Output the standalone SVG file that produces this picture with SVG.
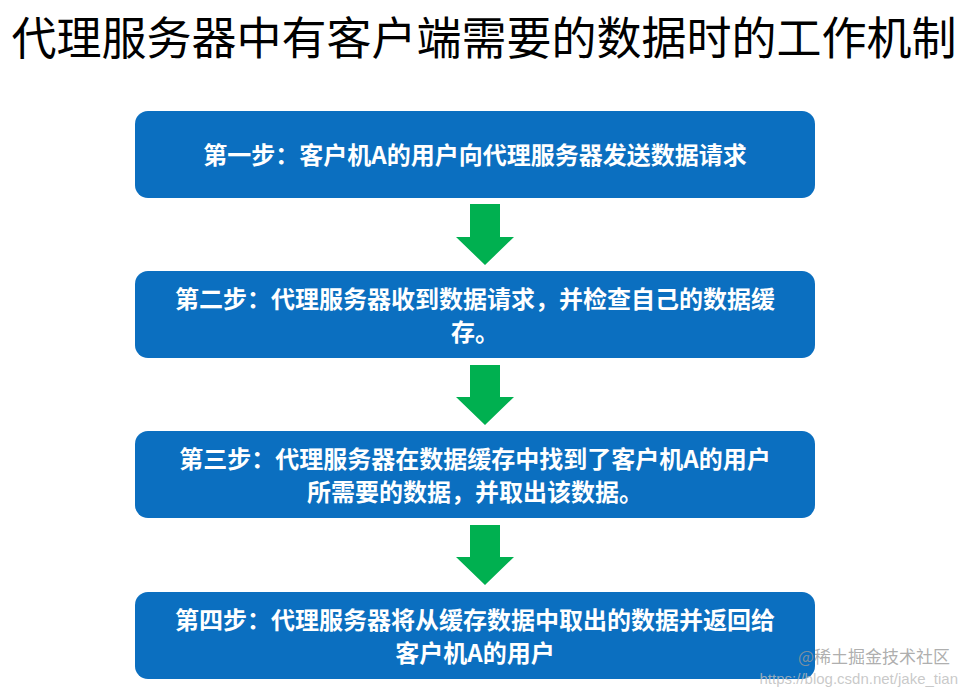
<svg xmlns="http://www.w3.org/2000/svg" width="969" height="692" viewBox="0 0 969 692">
<style>
.box{fill:#0B6FC0}
.t{font-family:"Noto Sans CJK SC","Liberation Sans",sans-serif;font-weight:bold;font-size:24px;fill:#fff;text-anchor:middle}
.ar{fill:#00B050}
</style>
<rect width="969" height="692" fill="#fff"/>
<text x="484" y="55" font-family="Noto Sans CJK SC,sans-serif" font-size="45" text-anchor="middle" fill="#000">代理服务器中有客户端需要的数据时的工作机制</text>
<g id="n1"><rect class="box" x="135" y="111" width="680" height="87" rx="13"/><text class="t" x="475" y="164">第一步：客户机A的用户向代理服务器发送数据请求</text></g>
<g id="n2"><rect class="box" x="135" y="271" width="680" height="87" rx="13"/><text class="t" x="475" y="308">第二步：代理服务器收到数据请求，并检查自己的数据缓</text><text class="t" x="475" y="341">存。</text></g>
<g id="n3"><rect class="box" x="135" y="431" width="680" height="87" rx="13"/><text class="t" x="475" y="468">第三步：代理服务器在数据缓存中找到了客户机A的用户</text><text class="t" x="475" y="501">所需要的数据，并取出该数据。</text></g>
<g id="n4"><rect class="box" x="135" y="592" width="680" height="87" rx="13"/><text class="t" x="475" y="629">第四步：代理服务器将从缓存数据中取出的数据并返回给</text><text class="t" x="475" y="662">客户机A的用户</text></g>
<g id="connectors">
<polygon class="ar" points="470,204 500,204 500,237 514,237 485,265 456,237 470,237"/>
<polygon class="ar" points="470,365 500,365 500,397 514,397 485,425 456,397 470,397"/>
<polygon class="ar" points="470,525 500,525 500,557 514,557 485,585 456,557 470,557"/>
</g>
<text x="950" y="663" font-family="Noto Sans CJK SC,sans-serif" font-size="17" text-anchor="end" fill="#999" fill-opacity="0.8">@稀土掘金技术社区</text>
<text x="958" y="684" font-family="Liberation Sans,sans-serif" font-size="15" text-anchor="end" fill="#bbb" fill-opacity="0.8">https://blog.csdn.net/jake_tian</text>
</svg>
